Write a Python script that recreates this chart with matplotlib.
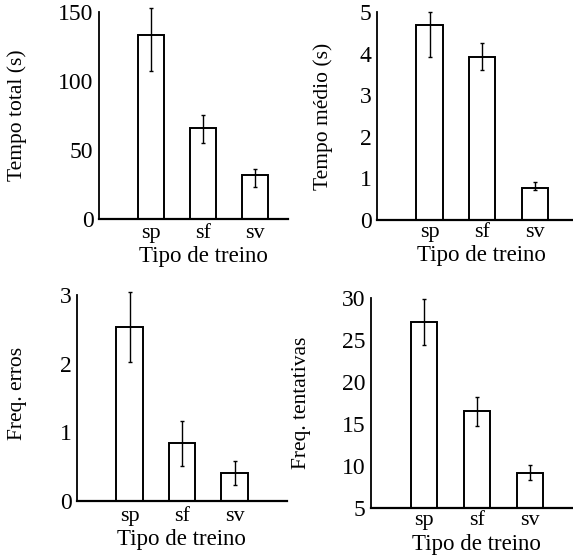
import numpy as np
import matplotlib
matplotlib.use('Agg')
import matplotlib.pyplot as plt

plt.rcParams['font.family'] = ['Liberation Serif', 'DejaVu Serif']

grupos = ['sp', 'sf', 'sv']

tempo_total = [133, 66, 32]
tempo_total_err_lo = [26, 11, 9]
tempo_total_err_hi = [20, 9, 4]

tempo_medio = [4.70, 3.93, 0.78]
tempo_medio_err_lo = [0.77, 0.32, 0.05]
tempo_medio_err_hi = [0.32, 0.34, 0.14]

freq_erros = [2.54, 0.84, 0.41]
freq_erros_err = [0.51, 0.33, 0.18]

freq_tentativas = [27.2, 16.5, 9.2]
freq_tentativas_err = [2.7, 1.7, 0.9]

fig = plt.figure(figsize=(5.73, 5.55), dpi=100)

paineis = [
    # rect, valores, erro, ylabel, yticks, ylim, base, xlim, ylabel pos, xlabel pos, tick pad
    ([0.1728, 0.6054, 0.330, 0.373], tempo_total,
     [tempo_total_err_lo, tempo_total_err_hi], 'Tempo total (s)',
     [0, 50, 100, 150], (0, 150), 0, (0, 3.63),
     (-0.434, 0.5), (0.55, -0.13), 3.6),
    ([0.658, 0.6036, 0.345, 0.374], tempo_medio,
     [tempo_medio_err_lo, tempo_medio_err_hi], 'Tempo médio (s)',
     [0, 1, 2, 3, 4, 5], (0, 5), 0, (0, 3.76),
     (-0.273, 0.5), (0.526, -0.12), 2),
    ([0.1344, 0.0973, 0.3665, 0.371], freq_erros,
     freq_erros_err, 'Freq. erros',
     [0, 1, 2, 3], (0, 3), 0, (0, 4.0),
     (-0.281, 0.52), (0.495, -0.136), 4.3),
    ([0.6475, 0.0852, 0.355, 0.377], freq_tentativas,
     freq_tentativas_err, 'Freq. tentativas',
     [5, 10, 15, 20, 25, 30], (5, 30), 5, (0, 3.84),
     (-0.34, 0.5), (0.517, -0.124), 2.5),
]

x = np.arange(1, len(grupos) + 1)

for rect, vals, err, ylab, yt, yl, base, xl, ypos, xpos, tpad in paineis:
    ax = fig.add_axes(rect)
    alturas = np.array(vals) - base
    ax.bar(x, alturas, bottom=base, width=0.5, color='white',
           edgecolor='black', linewidth=1.4)
    ax.errorbar(x, vals, yerr=err, fmt='none', ecolor='black',
                elinewidth=1.0, capsize=1.5, clip_on=False)
    ax.set_xlim(*xl)
    ax.set_ylim(*yl)
    ax.set_yticks(yt)
    ax.set_xticks(x)
    ax.set_xticklabels(grupos)
    ax.spines['top'].set_visible(False)
    ax.spines['right'].set_visible(False)
    ax.spines['left'].set_linewidth(1.3)
    ax.spines['bottom'].set_linewidth(1.6)
    ax.tick_params(axis='both', length=0)
    ax.tick_params(axis='y', labelsize=17, pad=4)
    ax.tick_params(axis='x', labelsize=16, pad=tpad)
    ax.set_ylabel(ylab, fontsize=15.5)
    ax.yaxis.set_label_coords(*ypos)
    ax.yaxis.label.set_va('center')
    ax.set_xlabel('Tipo de treino', fontsize=16.5)
    ax.xaxis.set_label_coords(*xpos)
    ax.xaxis.label.set_va('top')

fig.savefig('out.png', dpi=100)
